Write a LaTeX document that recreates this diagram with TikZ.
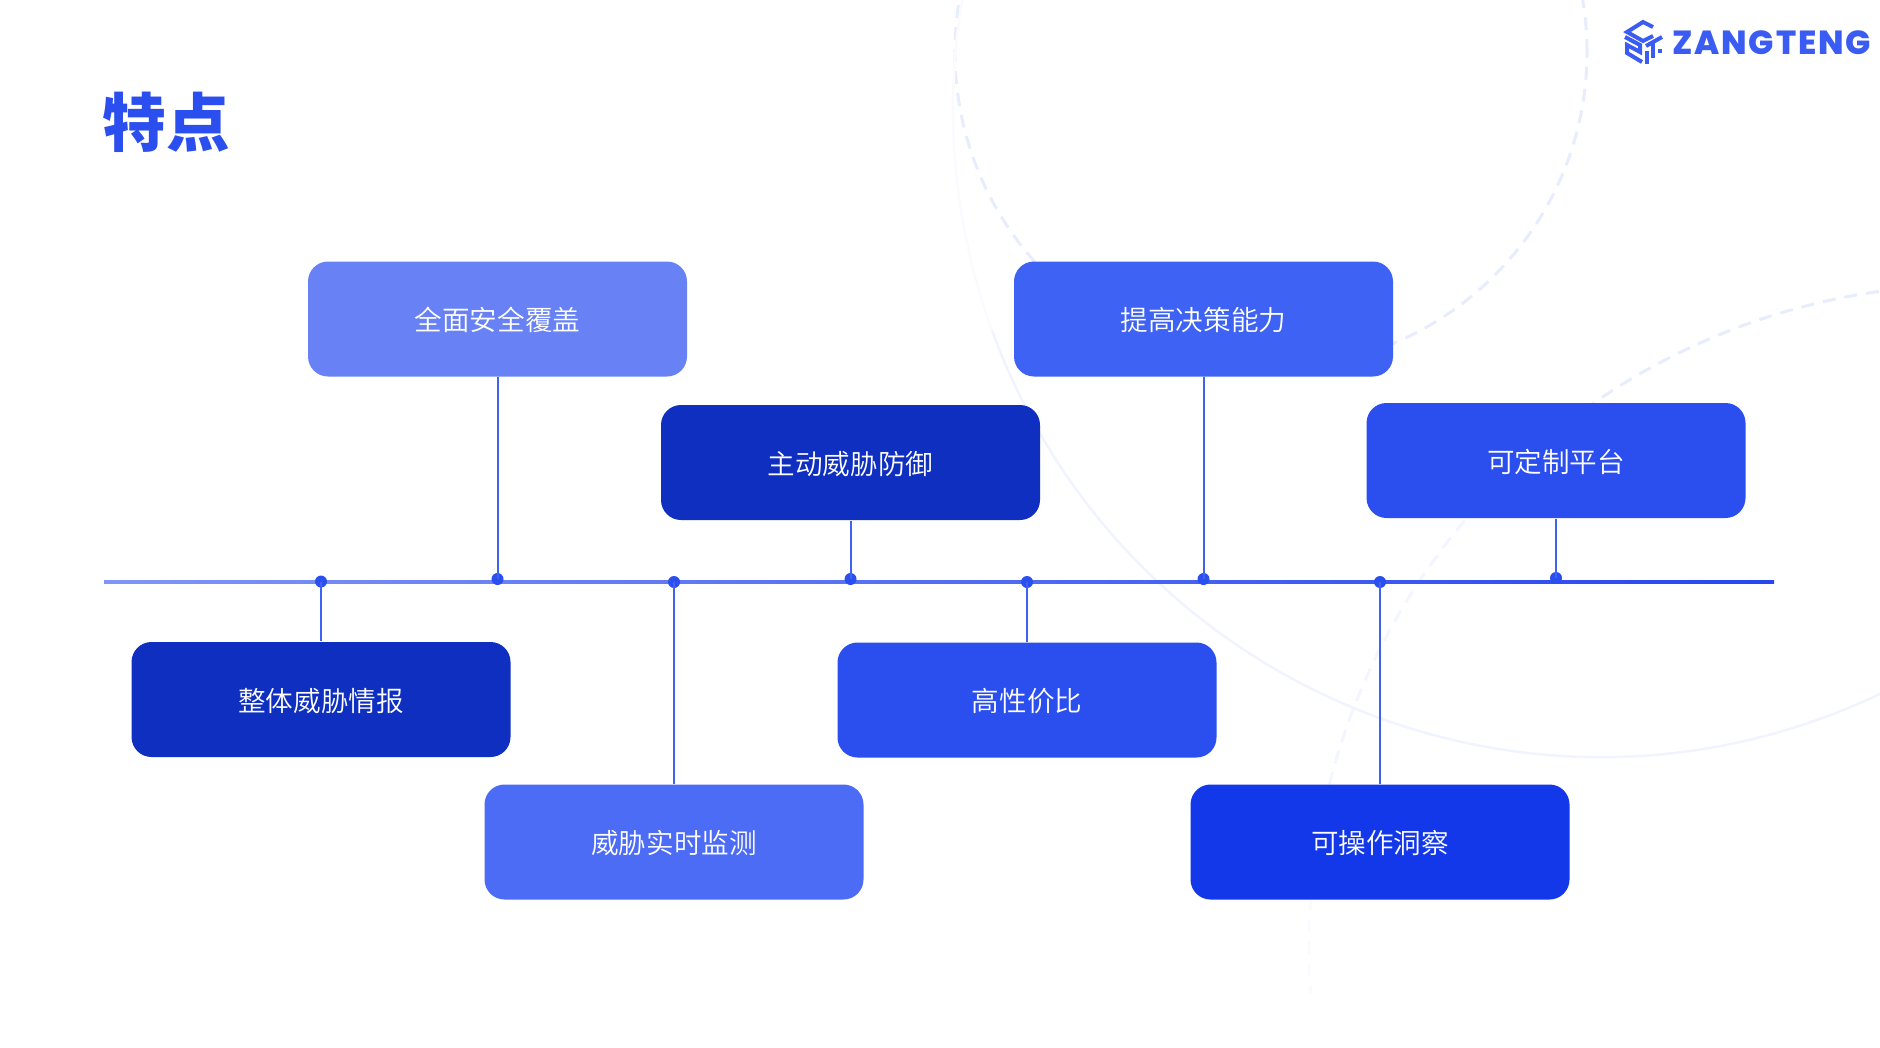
\documentclass[tikz,border=0pt]{standalone}
\usepackage{fontspec}
\usepackage{tikz}
\usepackage{xcolor}
\setmainfont{Noto Sans CJK SC}
\newfontfamily\boxfont{Noto Sans CJK SC DemiLight}
\newfontfamily\titlefont{Noto Sans CJK SC Black}
\newfontfamily\logofont[LetterSpace=5.5]{Poppins ExtraBold}
\definecolor{tealblue}{HTML}{2B4EEE}
\definecolor{paleblue}{HTML}{6882F5}
\definecolor{midblue}{HTML}{4D6CF5}
\definecolor{softblue}{HTML}{3E62F3}
\definecolor{deepblue}{HTML}{0F2FC0}
\definecolor{strongblue}{HTML}{1238EA}
\definecolor{logoblue}{HTML}{3B5CF2}
\definecolor{ringa}{HTML}{E8EDFD}
\definecolor{ringb}{HTML}{F3F6FE}
\definecolor{ringc}{HTML}{FBFBFF}
\definecolor{ringd}{HTML}{F1F4FE}

\begin{document}
\begin{tikzpicture}[
featurebox/.style={rectangle, rounded corners=0.2cm, minimum width=3.79cm, minimum height=1.15cm, inner sep=0pt, text height=0.29cm, text depth=0.06cm, text=white, font=\boxfont\fontsize{7.85pt}{10pt}\selectfont},
axisdot/.style={circle, fill=tealblue, inner sep=0pt, minimum size=0.12cm},
stem/.style={line width=0.02cm, softblue},
ringdash/.style={line width=0.03cm, dash pattern=on 0.13cm off 0.09cm},
logostroke/.style={line width=0.04cm, logoblue, line join=miter},
]
\useasboundingbox (0,0) rectangle (18.80,10.47);

%Rings
\begin{scope}
\clip (0,0) rectangle (18.80,10.47);
\draw [ringdash, ringa] (12.71,9.95) circle (3.16);
\draw [line width=0.025cm, ringc] (16.01,9.38) ++(135:6.48) arc (135:200:6.48);
\draw [line width=0.025cm, ringd] (16.01,9.38) ++(200:6.48) arc (200:360:6.48);
\draw [ringdash, ringa] (19.71,1.00) ++(98:6.62) arc (98:138:6.62);
\draw [ringdash, ringb] (19.71,1.00) ++(138:6.62) arc (138:170:6.62);
\draw [ringdash, ringc] (19.71,1.00) ++(170:6.62) arc (170:184:6.62);
\end{scope}

%Nodes
\node[featurebox, fill=paleblue] at (4.975,7.28) (cover) {全面安全覆盖};
\node[featurebox, fill=deepblue] at (8.505,5.845) (defend) {主动威胁防御};
\node[featurebox, fill=softblue] at (12.035,7.28) (decide) {提高决策能力};
\node[featurebox, fill=tealblue] at (15.56,5.865) (custom) {可定制平台};
\node[featurebox, fill=deepblue] at (3.21,3.475) (intel) {整体威胁情报};
\node[featurebox, fill=midblue] at (6.74,2.05) (monitor) {威胁实时监测};
\node[featurebox, fill=tealblue] at (10.27,3.47) (value) {高性价比};
\node[featurebox, fill=strongblue] at (13.80,2.05) (insight) {可操作洞察};
\node[text=tealblue, font=\titlefont\fontsize{18.1pt}{20pt}\selectfont, inner sep=0pt] at (1.66,9.25) (title) {特点};
\node[text=logoblue, font=\logofont\fontsize{9.5pt}{10pt}\selectfont, inner sep=0pt] at (17.715,10.04) (brand) {ZANGTENG};

%Axis
\coordinate (axisL) at (1.04,4.655);
\coordinate (axisR) at (17.74,4.655);
\shade [left color=paleblue!85!white, right color=tealblue!90!blue] ([yshift=0.015cm]axisL) rectangle ([yshift=-0.015cm]axisR);

\node[axisdot] at (3.21,4.655) (dotintel) {};
\node[axisdot] at (4.975,4.68) (dotcover) {};
\node[axisdot] at (6.74,4.65) (dotmonitor) {};
\node[axisdot] at (8.505,4.68) (dotdefend) {};
\node[axisdot] at (10.27,4.65) (dotvalue) {};
\node[axisdot] at (12.035,4.68) (dotdecide) {};
\node[axisdot] at (13.80,4.65) (dotinsight) {};
\node[axisdot] at (15.56,4.69) (dotcustom) {};

%Lines
\foreach \boxname/\dotname in {cover/dotcover, defend/dotdefend, decide/dotdecide, custom/dotcustom}
  \draw [stem] (\boxname.south) -- (\dotname.center);
\foreach \boxname/\dotname in {intel/dotintel, monitor/dotmonitor, value/dotvalue, insight/dotinsight}
  \draw [stem] (\dotname.center) -- (\boxname.north);

%Logo
\begin{scope}[shift={(16.43,10.04)}, x=0.01cm, y=0.01cm]
\draw [logostroke] (10,16) -- (0,21) -- (-16,11) -- (0,2) -- (10,7);
\draw [logostroke] (-18,6) -- (-3,-2) -- (-3,-9) -- (-16,-2) -- (-16,-10) -- (-1,-19);
\draw [logostroke] (3,-3) -- (19,6);
\draw [logostroke] (10,1) -- (10,-15);
\draw [logostroke] (4,-8) -- (4,-21);
\draw [logostroke] (17,-6) -- (17,-10);
\end{scope}

\end{tikzpicture}
\end{document}
